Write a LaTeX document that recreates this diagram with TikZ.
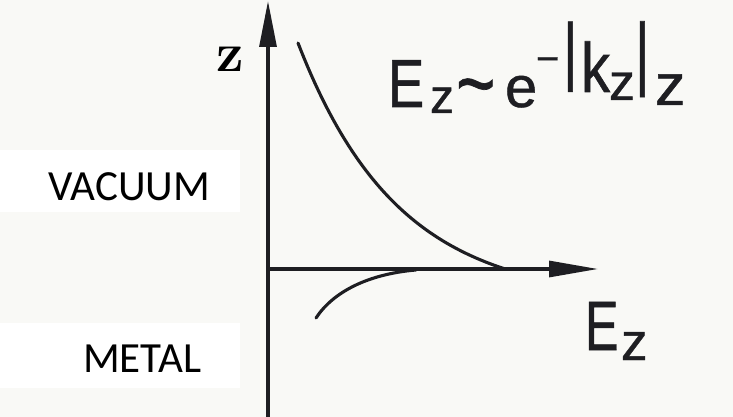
\documentclass[tikz,border=0pt]{standalone}
\usepackage{fontspec}
\usepackage{graphicx}
\setmainfont{Liberation Sans}
\newfontfamily\formfont[FakeBold=0.8]{Liberation Sans}
\newfontfamily\calfont{Carlito}
\newfontfamily\lmfont{Latin Modern Roman}
\usetikzlibrary{arrows.meta}
\definecolor{paper}{HTML}{F9F9F6}
\definecolor{ink}{HTML}{1E1E22}
\tikzset{
  axisline/.style={ink, line width=3.1pt},
  curveline/.style={ink, line width=3.1pt, line cap=round},
  gl/.style={inner sep=0pt, outer sep=0pt, anchor=base west, text=ink, font=\formfont\fontsize{#1}{#1}\selectfont},
  labelnode/.style={inner sep=0pt, anchor=base west, text=black, font=\calfont\fontsize{43}{43}\selectfont},
}
\begin{document}
\begin{tikzpicture}[x=1pt,y=-1pt]
\useasboundingbox (0,0) rectangle (733,417);
\fill[paper] (0,0) rectangle (733,417);
% white label panels
\fill[white] (0,150) rectangle (240,212);
\fill[white] (0,323) rectangle (240,388);

% axes
\coordinate (zbot) at (268,417);
\coordinate (ztop) at (268,1);
\coordinate (orig) at (268,269);
\coordinate (eend) at (598,269);
\draw[axisline, -{Triangle[length=46pt,width=17pt]}] (zbot) -- (ztop);
\draw[axisline, -{Triangle[length=49pt,width=16pt]}] (orig) -- (eend);

% decaying field in vacuum
\draw[curveline] plot[domain=298:505, samples=80, smooth] (\x, {269 - 258.6*(exp(-(\x-298)/100) - 0.126)});
% field in metal
\coordinate (ms) at (316,318);
\coordinate (me) at (416,270);
\draw[curveline] (ms) .. controls (333,292) and (368,274) .. (me);

% z axis label
\node[inner sep=0pt, anchor=base west, text=black, font=\lmfont\bfseries\fontsize{55}{55}\selectfont] (zlab) at (216,72) {z};

% formula E_z ~ e^{-|k_z|} z
\node[gl=68] (f1) at (388,107) {\scalebox{0.8}[1]{E}};
\node[gl=48] (f2) at (430,113) {z};
\node[gl=90] (f3) at (456,114) {\scalebox{0.75}[1]{\textasciitilde}};
\node[gl=58] (f4) at (505,107) {e};
\node[gl=40] (f5) at (536,72) {−};
\node[gl=75] (f6) at (563,76) {\scalebox{0.75}[1]{|}};
\node[gl=70] (f7) at (581,92) {\scalebox{0.83}[1]{k}};
\node[gl=52] (f8) at (609,100) {z};
\node[gl=81] (f9) at (635,80) {\scalebox{0.7}[1]{|}};
\node[gl=58] (f10) at (655,105) {\scalebox{1.05}[1]{z}};

% E_z axis label
\node[gl=70] (e1) at (585,350) {\scalebox{0.72}[1]{E}};
\node[gl=53] (e2) at (621,360) {z};

% region labels
\node[labelnode] (vac) at (48,200) {VACUUM};
\node[labelnode] (met) at (83,372) {METAL};
\end{tikzpicture}
\end{document}
